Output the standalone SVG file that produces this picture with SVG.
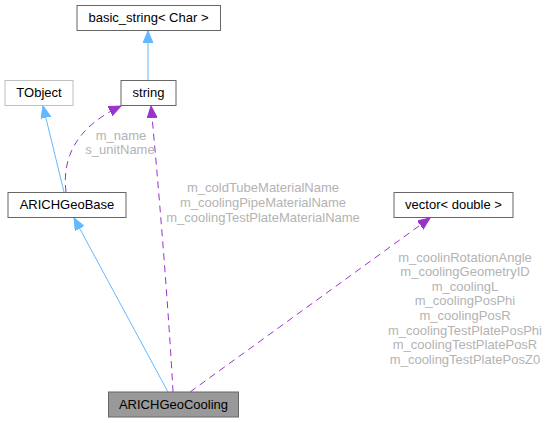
<svg xmlns="http://www.w3.org/2000/svg" width="549" height="423" viewBox="0 0 549 423">
<style>
.box{fill:#ffffff;stroke:#666666;stroke-width:1}
.t{font-family:"Liberation Sans",Arial,sans-serif;font-size:13px;fill:#000000;text-anchor:middle}
.lbl{font-family:"Liberation Sans",Arial,sans-serif;font-size:13px;fill:#b3b3b3;text-anchor:middle}
.inh{fill:none;stroke:#63b8ff;stroke-width:1}
.use{fill:none;stroke:#9a32cd;stroke-width:1;stroke-dasharray:7,5}
</style>
<defs>
<marker id="ab" markerUnits="userSpaceOnUse" markerWidth="13" markerHeight="11" refX="12" refY="5" orient="auto">
<path d="M0,0 L12,5 L0,10 z" fill="#63b8ff" stroke="#63b8ff"/>
</marker>
<marker id="ap" markerUnits="userSpaceOnUse" markerWidth="13" markerHeight="11" refX="12" refY="5" orient="auto">
<path d="M0,0 L12,5 L0,10 z" fill="#9a32cd" stroke="#9a32cd"/>
</marker>
</defs>
<rect width="549" height="423" fill="#ffffff"/>
<g id="edges">
<path class="inh" d="M148,80 L148,31" marker-end="url(#ab)"/>
<path class="inh" d="M64,192 L43,106" marker-end="url(#ab)"/>
<path class="inh" d="M168,392 L74,218" marker-end="url(#ab)"/>
<path class="use" d="M66,192 C62,160 74,128 121,106" marker-end="url(#ap)"/>
<path class="use" d="M173,392 C168,300 158,180 151,106" marker-end="url(#ap)"/>
<path class="use" d="M190,392 L430,218" marker-end="url(#ap)"/>
<text class="lbl" x="121" y="140">m_name</text>
<text class="lbl" x="120" y="154">s_unitName</text>
<text class="lbl" x="263" y="192">m_coldTubeMaterialName</text>
<text class="lbl" x="263" y="207">m_coolingPipeMaterialName</text>
<text class="lbl" x="263" y="222">m_coolingTestPlateMaterialName</text>
<text class="lbl" x="465" y="262">m_coolinRotationAngle</text>
<text class="lbl" x="465" y="276">m_coolingGeometryID</text>
<text class="lbl" x="465" y="291">m_coolingL</text>
<text class="lbl" x="465" y="305">m_coolingPosPhi</text>
<text class="lbl" x="465" y="320">m_coolingPosR</text>
<text class="lbl" x="465" y="335">m_coolingTestPlatePosPhi</text>
<text class="lbl" x="465" y="349">m_coolingTestPlatePosR</text>
<text class="lbl" x="465" y="364">m_coolingTestPlatePosZ0</text>
</g>
<g id="basic_string">
<rect class="box" x="77" y="5.5" width="143.5" height="25"/>
<text class="t" x="148.5" y="22">basic_string&lt; Char &gt;</text>
</g>
<g id="string">
<rect class="box" x="121" y="80.5" width="55" height="25"/>
<text class="t" x="148.5" y="97">string</text>
</g>
<g id="TObject">
<rect class="box" x="5" y="80.5" width="68" height="25" style="stroke:#bfbfbf"/>
<text class="t" x="39" y="97">TObject</text>
</g>
<g id="ARICHGeoBase">
<rect class="box" x="8" y="192.5" width="118" height="25"/>
<text class="t" x="67" y="209">ARICHGeoBase</text>
</g>
<g id="vector_double">
<rect class="box" x="394" y="192.5" width="119" height="25"/>
<text class="t" x="453.5" y="209">vector&lt; double &gt;</text>
</g>
<g id="ARICHGeoCooling">
<rect class="box" x="108.5" y="392" width="130" height="25" style="fill:#999999"/>
<text class="t" x="173.5" y="409">ARICHGeoCooling</text>
</g>
</svg>
